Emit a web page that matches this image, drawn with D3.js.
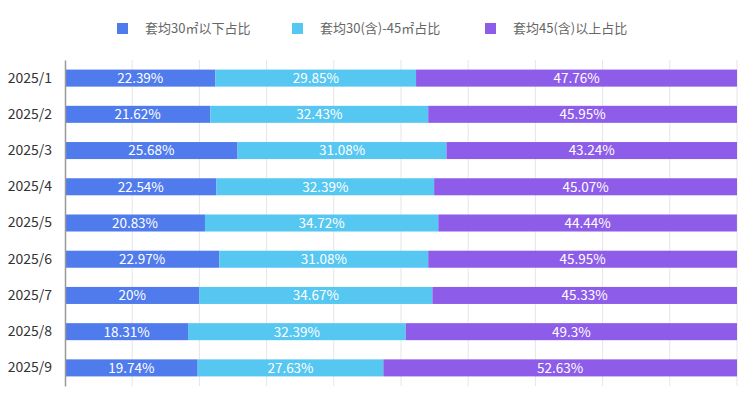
<!DOCTYPE html>
<html>
<head>
<meta charset="utf-8">
<script src="https://cdn.jsdelivr.net/npm/d3@7"></script>
<style>
	body { margin: 0; background: #fff; }
	svg text { font-family: "Noto Sans CJK SC", "Noto Sans", sans-serif; }
</style>
</head>
<body>
<svg id="chart" width="750" height="398"></svg>
<script>
var months = ["2025/1", "2025/2", "2025/3", "2025/4", "2025/5", "2025/6", "2025/7", "2025/8", "2025/9"];
var seriesNames = ["套均30㎡以下占比", "套均30(含)-45㎡占比", "套均45(含)以上占比"];
var small = [22.39, 21.62, 25.68, 22.54, 20.83, 22.97, 20, 18.31, 19.74];
var middle = [29.85, 32.43, 31.08, 32.39, 34.72, 31.08, 34.67, 32.39, 27.63];
var large = [47.76, 45.95, 43.24, 45.07, 44.44, 45.95, 45.33, 49.3, 52.63];
var xTicks = [0, 10, 20, 30, 40, 50, 60, 70, 80, 90, 100];

var COLORS = ["#4f7bec", "#56c7f1", "#8d5ce8"];
var margin = {left: 65, right: 13, top: 60, bottom: 12};
var W = 750, H = 398;

var svg = d3.select("#chart");

// build rows for stacking
var rows = months.map(function(m, i) {
	return {month: m, s0: small[i], s1: middle[i], s2: large[i]};
});
var stacked = d3.stack().keys(["s0", "s1", "s2"])(rows);

var x = d3.scaleLinear().domain([0, 100]).range([margin.left, W - margin.right]);
var y = d3.scaleBand().domain(months).range([margin.top, H - margin.bottom]).paddingInner(0.53).paddingOuter(0.265);

// grid lines
svg.append("g").selectAll("line")
	.data(xTicks.slice(1))
	.enter()
	.append("line")
	.attr("x1", function(d) { return x(d); })
	.attr("x2", function(d) { return x(d); })
	.attr("y1", margin.top)
	.attr("y2", H - margin.bottom)
	.attr("stroke", "#e6e6e6")
	.attr("stroke-width", 1);

// bars
var layer = svg.append("g").selectAll("g")
	.data(stacked)
	.enter()
	.append("g")
	.attr("fill", function(d, i) { return COLORS[i]; });

layer.selectAll("rect")
	.data(function(d) { return d; })
	.enter()
	.append("rect")
	.attr("x", function(d) { return x(d[0]); })
	.attr("y", function(d) { return y(d.data.month); })
	.attr("width", function(d) { return x(d[1]) - x(d[0]); })
	.attr("height", y.bandwidth());

// value labels
layer.selectAll("text")
	.data(function(d) { return d.map(function(p) { return {p: p, key: d.key}; }); })
	.enter()
	.append("text")
	.attr("x", function(d) { return (x(d.p[0]) + x(d.p[1])) / 2; })
	.attr("y", function(d) { return y(d.p.data.month) + y.bandwidth() / 2; })
	.attr("dy", "0.36em")
	.attr("text-anchor", "middle")
	.attr("fill", "#fff")
	.attr("font-size", 13.5)
	.text(function(d) { return d.p.data[d.key] + "%"; });

// y axis
var yAxis = svg.append("g")
	.attr("transform", "translate(" + margin.left + ",0)")
	.call(d3.axisLeft(y).tickSize(0).tickPadding(13));
yAxis.select(".domain").attr("stroke", "#999").attr("stroke-width", 1.5);
yAxis.selectAll("text")
	.attr("font-size", 14)
	.attr("fill", "#333")
	.style("font-family", "'Noto Sans CJK SC', 'Noto Sans', sans-serif");

// legend
var legendX = [117, 292, 485];
var legend = svg.append("g").selectAll("g")
	.data(seriesNames)
	.enter()
	.append("g")
	.attr("transform", function(d, i) { return "translate(" + legendX[i] + ",23)"; });
legend.append("rect")
	.attr("width", 11)
	.attr("height", 11)
	.attr("fill", function(d, i) { return COLORS[i]; });
legend.append("text")
	.attr("x", 28)
	.attr("y", 5.5)
	.attr("dy", "0.36em")
	.attr("font-size", 13)
	.attr("fill", "#666")
	.text(function(d) { return d; });
</script>
</body>
</html>
